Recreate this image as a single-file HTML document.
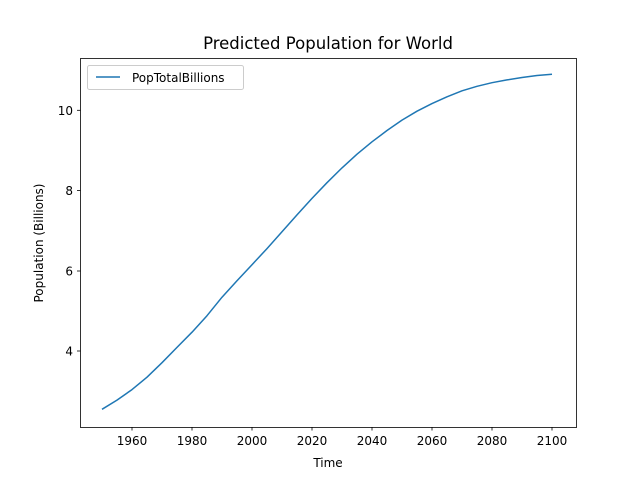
<!DOCTYPE html>
<html><head><meta charset="utf-8"><style>html,body{margin:0;padding:0;background:#fff}</style></head>
<body>
<svg width="640" height="480" xmlns="http://www.w3.org/2000/svg" font-family="'DejaVu Sans', sans-serif">
<rect width="640" height="480" fill="#fff"/>
<text x="328" y="49" font-size="16.5" text-anchor="middle">Predicted Population for World</text>
<polyline fill="none" stroke="#1f77b4" stroke-width="1.5" stroke-linejoin="round" points="102,409.3 117,400.1 132,389.6 147,377.2 162,362.7 177,347.4 192,332.2 207,315.7 222,297.2 237,280.8 252,264.7 267,248.6 282,231.8 297,214.9 312,198.4 327,182.7 342,167.9 357,154.2 372,141.8 387,130.5 402,120.1 417,111.2 432,103.6 447,96.8 462,90.8 477,86.3 492,82.7 507,79.9 522,77.5 537,75.5 552,74.3"/>
<rect x="80.5" y="58.5" width="496" height="369" fill="none" stroke="#000" stroke-width="0.8"/>
<g stroke="#000" stroke-width="0.8">
<line x1="132" y1="427" x2="132" y2="430.5"/><line x1="192" y1="427" x2="192" y2="430.5"/><line x1="252" y1="427" x2="252" y2="430.5"/><line x1="312" y1="427" x2="312" y2="430.5"/><line x1="372" y1="427" x2="372" y2="430.5"/><line x1="432" y1="427" x2="432" y2="430.5"/><line x1="492" y1="427" x2="492" y2="430.5"/><line x1="552" y1="427" x2="552" y2="430.5"/>
<line x1="77" y1="351" x2="80.5" y2="351"/><line x1="77" y1="271" x2="80.5" y2="271"/><line x1="77" y1="190.6" x2="80.5" y2="190.6"/><line x1="77" y1="110.3" x2="80.5" y2="110.3"/>
</g>
<g font-size="12" text-anchor="middle">
<text x="132" y="445">1960</text><text x="192" y="445">1980</text><text x="252" y="445">2000</text><text x="312" y="445">2020</text><text x="372" y="445">2040</text><text x="432" y="445">2060</text><text x="492" y="445">2080</text><text x="552" y="445">2100</text>
</g>
<g font-size="12" text-anchor="end">
<text x="73" y="355.5">4</text><text x="73" y="275.5">6</text><text x="73" y="195">8</text><text x="73" y="114.8">10</text>
</g>
<text x="328" y="467" font-size="12" text-anchor="middle">Time</text>
<text transform="translate(43,243) rotate(-90)" font-size="12" text-anchor="middle">Population (Billions)</text>
<rect x="87.5" y="65.5" width="156" height="24" rx="2" fill="#fff" fill-opacity="0.8" stroke="#ccc"/>
<line x1="96" y1="77" x2="120" y2="77" stroke="#1f77b4" stroke-width="1.5"/>
<text x="132" y="82" font-size="12">PopTotalBillions</text>
</svg>
</body></html>
